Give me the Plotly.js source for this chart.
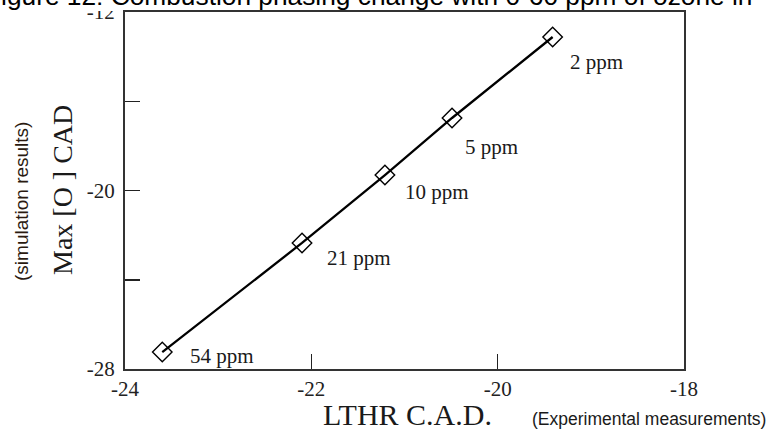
<!DOCTYPE html>
<html>
<head>
<meta charset="utf-8">
<script src="https://cdn.plot.ly/plotly-3.0.1.min.js"></script>
<style>html,body{margin:0;padding:0;background:#fff;}#chart{width:766px;height:437px;}</style>
</head>
<body>
<div id="chart"></div>
<script>
// Data
const ozoneLabels = ['54 ppm', '21 ppm', '10 ppm', '5 ppm', '2 ppm'];
const lthrCAD = [-23.60, -22.10, -21.21, -20.49, -19.41];
const maxOCAD = [-27.24, -22.35, -19.31, -16.75, -13.12];

const xTickVals = [-24, -22, -20, -18];
const xTickText = ['-24', '-22', '-20', '-18'];
const yTickVals = [-28, -24, -20, -16, -12];
const yTickText = ['-28', '', '-20', '', '-12'];

// Label placement offsets (pixels)
const labelDx = [26, 23, 18, 11, 15];
const labelDy = [4, 15, 17, 29, 25];

const L = 125, R = 82, T = 12, B = 68;
const W = 766, H = 437;
const pw = W - L - R, ph = H - T - B;
const px = v => (v - L) / pw;
const py = v => (H - B - v) / ph;

const serif = 'Liberation Serif, Times New Roman, serif';
const sans = 'Liberation Sans, Arial, sans-serif';

const trace = {
  x: lthrCAD, y: maxOCAD,
  type: 'scatter', mode: 'lines+markers',
  line: {color: '#000', width: 2.3},
  marker: {symbol: 'diamond-open', size: 15, color: '#000', line: {color: '#000', width: 1.4}},
  hoverinfo: 'skip'
};

const annotations = ozoneLabels.map((t, i) => ({
  x: lthrCAD[i], y: maxOCAD[i], xref: 'x', yref: 'y',
  text: t, showarrow: false, xanchor: 'left', yanchor: 'middle',
  xshift: labelDx[i], yshift: -labelDy[i],
  font: {family: serif, size: 21, color: '#1a1a1a'}
}));

annotations.push(
  {text: 'Figure 12: Combustion phasing change with 0-60 ppm of ozone in', xref: 'paper', yref: 'paper',
   x: px(-17), y: py(13), xanchor: 'left', yanchor: 'bottom', showarrow: false,
   font: {family: sans, size: 26.3, color: '#000'}},
  {text: 'LTHR C.A.D.', xref: 'paper', yref: 'paper', x: px(407), y: py(414),
   xanchor: 'center', yanchor: 'middle', showarrow: false,
   font: {family: serif, size: 30, color: '#1a1a1a'}},
  {text: '(Experimental measurements)', xref: 'paper', yref: 'paper', x: px(530), y: py(419),
   xanchor: 'left', yanchor: 'middle', showarrow: false,
   font: {family: sans, size: 17.5, color: '#1a1a1a'}},
  {text: 'Max [O ] CAD', xref: 'paper', yref: 'paper', x: px(62), y: py(190),
   xanchor: 'center', yanchor: 'middle', textangle: -90, showarrow: false,
   font: {family: serif, size: 28, color: '#1a1a1a'}},
  {text: '(simulation results)', xref: 'paper', yref: 'paper', x: px(21), y: py(202),
   xanchor: 'center', yanchor: 'middle', textangle: -90, showarrow: false,
   font: {family: sans, size: 19, color: '#2a1a10'}}
);

const layout = {
  width: W, height: H,
  margin: {l: L, r: R, t: T, b: B, pad: 0},
  paper_bgcolor: '#fff', plot_bgcolor: '#fff',
  showlegend: false,
  xaxis: {
    range: [-24, -18], tickvals: xTickVals, ticktext: xTickText,
    ticks: 'inside', ticklen: 15, tickwidth: 1.5, tickcolor: '#222',
    showline: true, linecolor: '#333', linewidth: 2, mirror: true,
    showgrid: false, zeroline: false, ticklabelstandoff: 0,
    tickfont: {family: serif, size: 21, color: '#222'}
  },
  yaxis: {
    range: [-28, -12], tickvals: yTickVals, ticktext: yTickText,
    ticks: 'inside', ticklen: 15, tickwidth: 1.5, tickcolor: '#222',
    showline: true, linecolor: '#333', linewidth: 2, mirror: true,
    showgrid: false, zeroline: false, ticklabelstandoff: 4,
    tickfont: {family: serif, size: 21, color: '#222'}
  },
  shapes: [
    {type: 'rect', xref: 'paper', yref: 'paper', x0: px(0), x1: px(123), y0: py(11), y1: py(0),
     fillcolor: '#fff', line: {width: 0}, layer: 'above'}
  ],
  annotations: annotations
};

Plotly.newPlot('chart', [trace], layout, {displayModeBar: false, staticPlot: true});
</script>
</body>
</html>
